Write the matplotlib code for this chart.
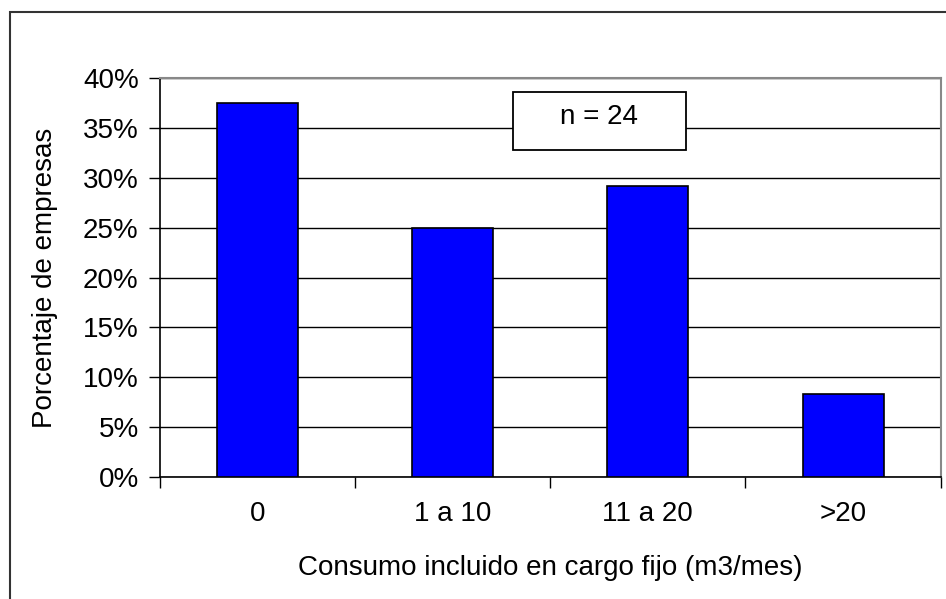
import matplotlib.pyplot as plt
from matplotlib.patches import Rectangle
from matplotlib.ticker import FuncFormatter, MultipleLocator

categories = ["0", "1 a 10", "11 a 20", ">20"]
shares = [37.5, 25.0, 29.17, 8.33]  # percent of companies, n = 24
n_total = 24

W, H = 946, 599
FS = 20
plt.rcParams["font.family"] = ["Liberation Sans", "DejaVu Sans"]

fig = plt.figure(figsize=(W / 100, H / 100), dpi=100)

# chart-area frame (right and bottom edges fall outside the picture)
fig.patches.append(
    Rectangle((10 / W, -0.1), 1.2, 1.1 - 12 / H, transform=fig.transFigure,
              fill=False, edgecolor="#333333", linewidth=1.5)
)

left, right, top, bottom = 159.5, 940.7, 77.7, 477.3
ax = fig.add_axes([left / W, 1 - bottom / H, (right - left) / W, (bottom - top) / H])

x = range(len(categories))
ax.bar(x, shares, width=0.415, color="#0000ff", edgecolor="black", linewidth=1.2, zorder=3)

ax.set_xlim(-0.5, len(categories) - 0.5)
ax.set_ylim(0, 40)
ax.yaxis.set_major_locator(MultipleLocator(5))
ax.yaxis.set_major_formatter(FuncFormatter(lambda v, _: f"{v:.0f}%"))
ax.grid(axis="y", color="black", linewidth=1, zorder=0)

ax.set_xticks([i - 0.5 for i in range(len(categories) + 1)], minor=False)
ax.set_xticklabels([])
ax.set_xticks(list(x), minor=True)
ax.set_xticklabels(categories, minor=True)
ax.tick_params(axis="x", which="major", length=8, width=1, direction="out")
ax.tick_params(axis="x", which="minor", length=0, pad=17, labelsize=FS)
ax.tick_params(axis="y", length=8, width=1, direction="out", labelsize=FS, pad=7)

for side in ("left", "bottom"):
    ax.spines[side].set_color("black")
    ax.spines[side].set_linewidth(1.2)
for side in ("top", "right"):
    ax.spines[side].set_color("#888888")
    ax.spines[side].set_linewidth(1.5)

ax.set_ylabel("Porcentaje de empresas", fontsize=FS, labelpad=18)
ax.set_xlabel("Consumo incluido en cargo fijo (m3/mes)", fontsize=FS, labelpad=20)

# "n = 24" box
ax.add_patch(Rectangle((0.452, 0.819), 0.2215, 0.146, transform=ax.transAxes,
                       facecolor="white", edgecolor="black", linewidth=1.3, zorder=5))
ax.text(0.452 + 0.2215 / 2, 0.819 + 0.146 / 2 + 0.01, f"n = {n_total}", transform=ax.transAxes,
        ha="center", va="center", fontsize=FS, zorder=6)

fig.savefig("out.png", dpi=100)
